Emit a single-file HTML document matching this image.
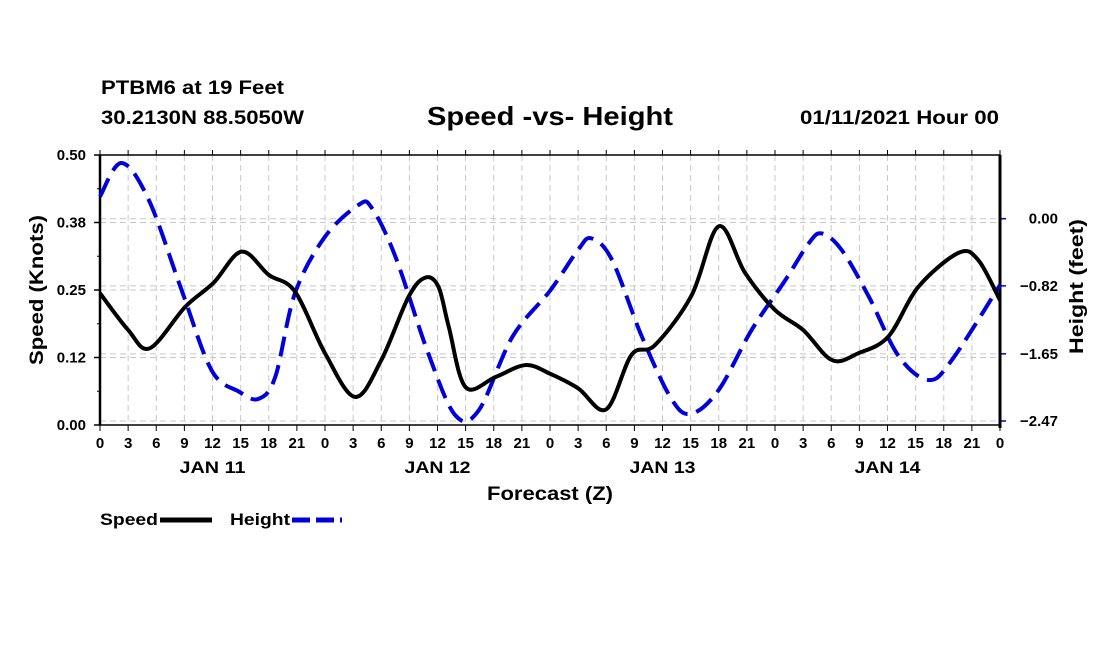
<!DOCTYPE html>
<html><head><meta charset="utf-8"><style>
body{margin:0;background:#fff;}
svg text{font-family:"Liberation Sans",sans-serif;font-weight:bold;fill:#000;}
</style></head><body>
<svg id="chart" width="1100" height="650" viewBox="0 0 1100 650" xmlns="http://www.w3.org/2000/svg">
<rect width="1100" height="650" fill="#fff"/>
<text x="101" y="94" font-size="19" textLength="183" lengthAdjust="spacingAndGlyphs">PTBM6 at 19 Feet</text>
<text x="101" y="124" font-size="19" textLength="203" lengthAdjust="spacingAndGlyphs">30.2130N 88.5050W</text>
<text x="427" y="125" font-size="26" textLength="246" lengthAdjust="spacingAndGlyphs">Speed -vs- Height</text>
<text x="800" y="124" font-size="19" textLength="199" lengthAdjust="spacingAndGlyphs">01/11/2021 Hour 00</text>
<g id="grid"></g><g id="axes"></g><g id="series"></g>
<text transform="translate(43,365) rotate(-90)" font-size="19" textLength="150" lengthAdjust="spacingAndGlyphs">Speed (Knots)</text>
<text transform="translate(1083,354) rotate(-90)" font-size="19" textLength="135" lengthAdjust="spacingAndGlyphs">Height (feet)</text>
<text x="487" y="500" font-size="19" textLength="126" lengthAdjust="spacingAndGlyphs">Forecast (Z)</text>
<g><text x="100" y="525" font-size="17" textLength="58" lengthAdjust="spacingAndGlyphs">Speed</text><line x1="160" y1="520" x2="212" y2="520" stroke="#000" stroke-width="5"/></g>
<g><text x="230" y="525" font-size="17" textLength="60" lengthAdjust="spacingAndGlyphs">Height</text><line x1="292" y1="520" x2="342" y2="520" stroke="#0000dd" stroke-width="5" stroke-dasharray="18,6"/></g>
</svg>
<script>
const speedHours=[0,3,5.3,9.1,12.1,15.1,18,20.8,24,27.2,30,32.9,34.7,36.1,37.2,39,42.2,45.4,48,51,54,56.7,59.2,63.1,66,68.8,72,75,78.1,80.9,84.1,87.3,91.6,93.7,96];
const speedValues=[0.244,0.176,0.142,0.219,0.263,0.321,0.278,0.247,0.133,0.052,0.12,0.237,0.273,0.256,0.182,0.07,0.089,0.111,0.095,0.068,0.029,0.13,0.148,0.24,0.368,0.282,0.213,0.176,0.12,0.133,0.164,0.256,0.319,0.305,0.231];
const heightHours=[0,2.3,5.2,8.7,11.9,14.8,16.9,18.7,20.8,24,27.6,29,31.5,35,37.9,40.4,44,48,51,52.4,54.6,57.8,61,63.1,66,69.5,73.1,75.6,77,79.1,82,85.2,88.4,90.9,96];
const heightValues=[0.27,0.68,0.23,-0.87,-1.85,-2.11,-2.2,-1.93,-0.91,-0.22,0.17,0.13,-0.46,-1.64,-2.4,-2.34,-1.44,-0.88,-0.38,-0.24,-0.5,-1.44,-2.21,-2.38,-2.09,-1.36,-0.75,-0.3,-0.18,-0.38,-0.95,-1.68,-1.97,-1.72,-0.81];
const speedTicks=[0,0.125,0.25,0.375,0.5];
const speedTickLabels=["0.00","0.12","0.25","0.38","0.50"];
const heightTicks=[0,-0.82,-1.65,-2.47];
const heightTickLabels=["0.00","\u22120.82","\u22121.65","\u22122.47"];
const dayLabels=["JAN 11","JAN 12","JAN 13","JAN 14"];
const L=100,R=1000,T=155,B=425,NS="http://www.w3.org/2000/svg";
const x=h=>L+h*(R-L)/96;
const y1=v=>B-v*(B-T)/0.5;
const y2=v=>218.7-v*81.9;
function mk(tag,attrs,parent){const e=document.createElementNS(NS,tag);for(const k in attrs)e.setAttribute(k,attrs[k]);parent.appendChild(e);return e;}
const grid=document.getElementById('grid'),axes=document.getElementById('axes'),series=document.getElementById('series');
for(let h=3;h<96;h+=3){const g=mk('line',{x1:x(h),x2:x(h),y1:T,y2:B,stroke:'#c8c8c8','stroke-dasharray':'6,4'},grid);

}
speedTicks.forEach((v,i)=>{if(i>0&&i<4){const g=mk('line',{x1:L,x2:R,y1:y1(v),y2:y1(v),stroke:'#c8c8c8','stroke-dasharray':'6,4'},grid);

}
mk('line',{x1:L-6,x2:L,y1:y1(v),y2:y1(v),stroke:'#000','stroke-width':1.5},axes);
const t=mk('text',{x:L-14,y:y1(v)+5,'font-size':15,'text-anchor':'end'},axes);t.textContent=speedTickLabels[i];

});
for(let v=0.0625;v<0.5;v+=0.125)mk('line',{x1:L-3,x2:L,y1:y1(v),y2:y1(v),stroke:'#000'},axes);
heightTicks.forEach((v,i)=>{const g=mk('line',{x1:L,x2:R,y1:y2(v),y2:y2(v),stroke:'#c8c8c8','stroke-dasharray':'6,4'},grid);


mk('line',{x1:R,x2:R+6,y1:y2(v),y2:y2(v),stroke:'#0000cc','stroke-width':1.5},axes);
const t=mk('text',{x:1058,y:y2(v)+5,'font-size':15,'text-anchor':'end'},axes);t.textContent=heightTickLabels[i];

});
mk('rect',{x:L,y:T,width:R-L,height:B-T,fill:'none',stroke:'#000','stroke-width':1.5},axes);
mk('line',{x1:L,x2:L,y1:T,y2:B,stroke:'#000','stroke-width':2.5},axes);
mk('line',{x1:R,x2:R,y1:T,y2:B+3,stroke:'#000','stroke-width':3},axes);
for(let h=0;h<=96;h+=3){mk('line',{x1:x(h),x2:x(h),y1:B,y2:B+6,stroke:'#000'},axes);mk('line',{x1:x(h),x2:x(h),y1:T,y2:T-5,stroke:'#000'},axes);
const t=mk('text',{x:x(h),y:448,'font-size':15,'text-anchor':'middle'},axes);t.textContent=String(h%24);

}
dayLabels.forEach((d,i)=>{const t=mk('text',{x:x(12+24*i),y:473,'font-size':17,'text-anchor':'middle',textLength:66,lengthAdjust:'spacingAndGlyphs'},axes);t.textContent=d;

});
function smooth(pts){let d='M'+pts[0][0]+','+pts[0][1];for(let i=0;i<pts.length-1;i++){const p0=pts[i-1]||pts[i],p1=pts[i],p2=pts[i+1],p3=pts[i+2]||p2;
d+=' C'+(p1[0]+(p2[0]-p0[0])/6)+','+(p1[1]+(p2[1]-p0[1])/6)+' '+(p2[0]-(p3[0]-p1[0])/6)+','+(p2[1]-(p3[1]-p1[1])/6)+' '+p2[0]+','+p2[1];}return d;}
const hp=mk('path',{d:smooth(heightHours.map((h,i)=>[x(h),y2(heightValues[i])])),fill:'none',stroke:'#0000dd','stroke-width':4,'stroke-dasharray':'20,9'},series);


const sp=mk('path',{d:smooth(speedHours.map((h,i)=>[x(h),y1(speedValues[i])])),fill:'none',stroke:'#000','stroke-width':4},series);


</script>
</body></html>
